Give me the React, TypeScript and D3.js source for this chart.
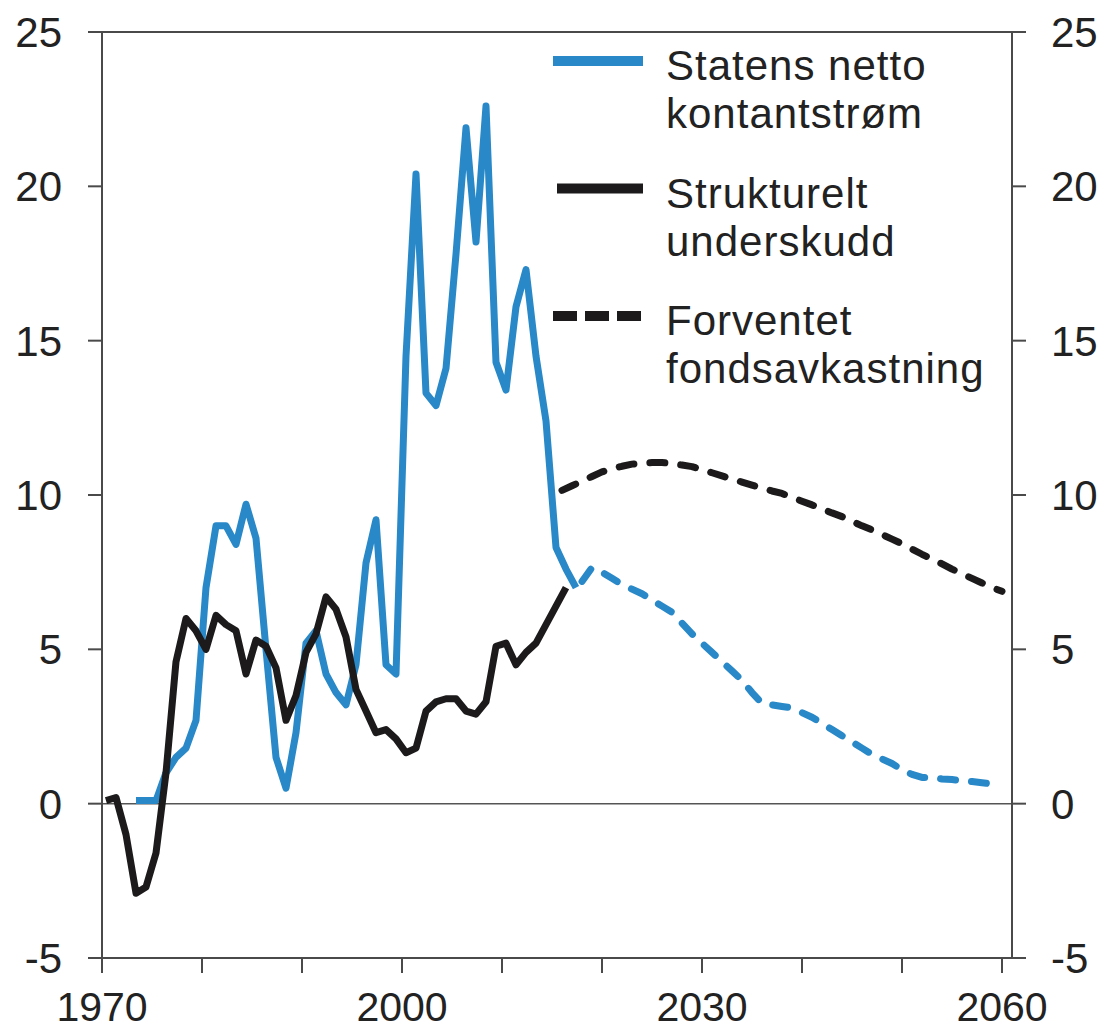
import * as d3 from "d3";

// ---------- Data (% of trend GDP) ----------

// Statens netto kontantstrøm, historical
const cashYears = [
  1973, 1974, 1975, 1976, 1977, 1978, 1979, 1980, 1981, 1982, 1983, 1984, 1985,
  1986, 1987, 1988, 1989, 1990, 1991, 1992, 1993, 1994, 1995, 1996, 1997, 1998,
  1999, 2000, 2001, 2002, 2003, 2004, 2005, 2006, 2007, 2008, 2009, 2010, 2011,
  2012, 2013, 2014, 2015, 2016, 2017,
];
const cashValues = [
  0.1, 0.1, 0.1, 1.0, 1.5, 1.8, 2.7, 7.0, 9.0, 9.0, 8.4, 9.7, 8.6, 5.0, 1.5,
  0.5, 2.3, 5.2, 5.6, 4.2, 3.6, 3.2, 4.5, 7.8, 9.2, 4.5, 4.2, 14.5, 20.4, 13.3,
  12.9, 14.1, 17.8, 21.9, 18.2, 22.6, 14.3, 13.4, 16.1, 17.3, 14.5, 12.4, 8.3,
  7.6, 7.0,
];

// Strukturelt underskudd, historical
const deficitYears = [
  1970, 1971, 1972, 1973, 1974, 1975, 1976, 1977, 1978, 1979, 1980, 1981, 1982,
  1983, 1984, 1985, 1986, 1987, 1988, 1989, 1990, 1991, 1992, 1993, 1994, 1995,
  1996, 1997, 1998, 1999, 2000, 2001, 2002, 2003, 2004, 2005, 2006, 2007, 2008,
  2009, 2010, 2011, 2012, 2013, 2014, 2015, 2016,
];
const deficitValues = [
  0.1, 0.2, -1.0, -2.9, -2.7, -1.6, 1.0, 4.6, 6.0, 5.6, 5.0, 6.1, 5.8, 5.6,
  4.2, 5.3, 5.1, 4.4, 2.7, 3.5, 4.9, 5.5, 6.7, 6.3, 5.4, 3.7, 3.0, 2.3, 2.4,
  2.1, 1.65, 1.8, 3.0, 3.3, 3.4, 3.4, 3.0, 2.9, 3.3, 5.1, 5.2, 4.5, 4.9, 5.2,
  5.8, 6.4, 7.0,
];

// Statens netto kontantstrøm, projection
const cashProjYears = d3.range(2018, 2061);
const cashProjValues = [
  7.2, 7.65, 7.5, 7.3, 7.1, 6.95, 6.8, 6.6, 6.4, 6.2, 5.85, 5.5, 5.2, 4.9, 4.6,
  4.3, 4.0, 3.6, 3.25, 3.2, 3.15, 3.1, 2.95, 2.8, 2.6, 2.4, 2.2, 2.0, 1.8, 1.6,
  1.45, 1.3, 1.1, 0.95, 0.85, 0.85, 0.8, 0.78, 0.75, 0.72, 0.68, 0.64, 0.6,
];

// Forventet fondsavkastning, projection
const returnYears = d3.range(2016, 2061);
const returnValues = [
  10.15, 10.3, 10.45, 10.6, 10.75, 10.85, 10.93, 11.0, 11.03, 11.05, 11.05,
  11.02, 10.97, 10.92, 10.82, 10.72, 10.62, 10.52, 10.42, 10.32, 10.22, 10.13,
  10.05, 9.92, 9.8, 9.68, 9.55, 9.42, 9.3, 9.15, 9.0, 8.87, 8.72, 8.57, 8.42,
  8.25, 8.08, 7.92, 7.77, 7.6, 7.45, 7.3, 7.15, 7.0, 6.88,
];

const yTicks = [-5, 0, 5, 10, 15, 20, 25];
const xTicks = d3.range(1970, 2061, 10);
const xLabels = [1970, 2000, 2030, 2060];

const legendLabels = [
  ["Statens netto", "kontantstrøm"],
  ["Strukturelt", "underskudd"],
  ["Forventet", "fondsavkastning"],
];

// ---------- Layout ----------

const W = 1102;
const H = 1031;
const PLOT = { left: 102, right: 1012, top: 32, bottom: 958 };
const BLUE = "#2888c8";
const BLACK = "#1c1a1b";
const AXIS = "#4a4a4a";
const TEXT = "#222";
const FONT = "'Liberation Sans', Arial, Helvetica, sans-serif";
const HIST_SHIFT = 0.4; // historical points sit a little past the year tick
const DASH = "15,16";

type Pt = [number, number];
const zip = (xs: number[], ys: number[]): Pt[] => xs.map((x, i) => [x, ys[i]]);

export default function App() {
  const x = d3.scaleLinear().domain([1970, 2061]).range([PLOT.left, PLOT.right]);
  const y = d3.scaleLinear().domain([-5, 25]).range([PLOT.bottom, PLOT.top]);

  const histLine = d3
    .line<Pt>()
    .x((d) => x(d[0] + HIST_SHIFT))
    .y((d) => y(d[1]));
  const projLine = d3
    .line<Pt>()
    .x((d) => x(d[0]))
    .y((d) => y(d[1]));

  const series = [
    { d: projLine(zip(returnYears, returnValues)), color: BLACK, dash: DASH },
    { d: projLine(zip(cashProjYears, cashProjValues)), color: BLUE, dash: DASH },
    { d: histLine(zip(cashYears, cashValues)), color: BLUE, dash: undefined },
    { d: histLine(zip(deficitYears, deficitValues)), color: BLACK, dash: undefined },
  ];

  const legendSymbols = [
    { color: BLUE, dash: undefined, x0: 553 },
    { color: BLACK, dash: undefined, x0: 557 },
    { color: BLACK, dash: "24,8", x0: 553 },
  ];

  return (
    <svg
      width={W}
      height={H}
      style={{ position: "absolute", left: 0, top: 0, background: "#fff" }}
      fontFamily={FONT}
    >
      <rect width={W} height={H} fill="#fff" />

      {/* zero line */}
      <line x1={PLOT.left} x2={PLOT.right} y1={y(0)} y2={y(0)} stroke="#555" strokeWidth={1.5} />

      {/* series */}
      {series.map((s, i) => (
        <path
          key={i}
          d={s.d ?? ""}
          fill="none"
          stroke={s.color}
          strokeWidth={7}
          strokeDasharray={s.dash}
          strokeLinecap={s.dash ? "round" : "butt"}
          strokeLinejoin="round"
        />
      ))}

      {/* frame: left, right, top, bottom */}
      <g stroke={AXIS} strokeWidth={2}>
        <line x1={PLOT.left} x2={PLOT.left} y1={PLOT.top} y2={PLOT.bottom} />
        <line x1={PLOT.right} x2={PLOT.right} y1={PLOT.top} y2={PLOT.bottom} />
        <line x1={PLOT.left} x2={PLOT.right} y1={PLOT.top} y2={PLOT.top} />
        <line x1={PLOT.left - 14} x2={PLOT.right + 14} y1={PLOT.bottom} y2={PLOT.bottom} />
      </g>

      {/* y ticks + labels, both sides */}
      {yTicks.map((t) => (
        <g key={t}>
          <line x1={PLOT.left - 14} x2={PLOT.left} y1={y(t)} y2={y(t)} stroke={AXIS} strokeWidth={2} />
          <line x1={PLOT.right} x2={PLOT.right + 14} y1={y(t)} y2={y(t)} stroke={AXIS} strokeWidth={2} />
          <text x={62} y={y(t)} dy="0.36em" textAnchor="end" fontSize={42} fill={TEXT}>
            {t}
          </text>
          <text x={1051} y={y(t)} dy="0.36em" textAnchor="start" fontSize={42} fill={TEXT}>
            {t}
          </text>
        </g>
      ))}

      {/* x ticks + labels */}
      {xTicks.map((t) => (
        <line key={t} x1={x(t)} x2={x(t)} y1={PLOT.bottom} y2={PLOT.bottom + 15} stroke={AXIS} strokeWidth={2} />
      ))}
      {xLabels.map((t) => (
        <text key={t} x={x(t)} y={1021} textAnchor="middle" fontSize={41} fill={TEXT}>
          {t}
        </text>
      ))}

      {/* legend */}
      {legendLabels.map((lines, i) => {
        const top = 61 + i * 127.5;
        const sym = legendSymbols[i];
        return (
          <g key={i}>
            <line
              x1={sym.x0}
              x2={643}
              y1={top}
              y2={top}
              stroke={sym.color}
              strokeWidth={10}
              strokeDasharray={sym.dash}
            />
            {lines.map((l, j) => (
              <text
                key={j}
                x={666}
                y={top + 19 + j * 48}
                fontSize={42}
                letterSpacing={1}
                fill={TEXT}
              >
                {l}
              </text>
            ))}
          </g>
        );
      })}
    </svg>
  );
}
